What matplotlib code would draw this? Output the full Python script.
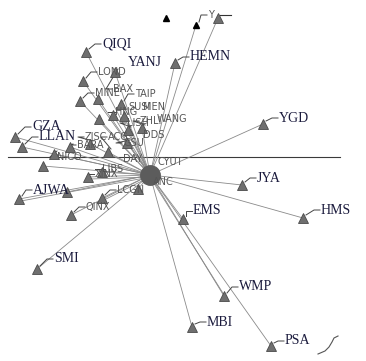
import matplotlib
matplotlib.use("Agg")
import matplotlib.pyplot as plt

# node positions (pixel-like units, y grows downward)
hub = (150, 175)

names   = ['QIQI', 'YANJ', 'HEMN', 'YGD', 'GZA', 'LLAN', 'JYA', 'HMS', 'AJWA', 'EMS',
           'SMI', 'WMP', 'MBI', 'PSA',
           'LOND', 'BAX', 'MINE', '', 'TAIP', 'SUSI', 'MEN', 'HNG', '', '', 'ZHLI', 'WANG',
           'LISH', 'DDS', 'ZISC', 'BARA', 'ACG', 'GSU', 'NICO', '', 'DAY', 'CYUT', 'LIBS',
           'XINX', '', 'LCGN', '', 'QINX', 'ANC', '', 'Y', '']
node_x  = [86, None, 175, 263, 15, 22, 242, 303, 19, 183,
           37, 224, 192, 271,
           83, 115, 80, 98, 121, None, None, 113, 124, 99, 142, None,
           128, None, 90, 70, 108, 127, 54, 43, None, None, 102,
           88, 67, 102, 138, 71, None, 166, 196, 218]
node_y  = [52, None, 63, 124, 137, 147, 185, 218, 199, 219,
           269, 296, 327, 346,
           81, 72, 101, 99, 104, None, None, 115, 116, 119, 128, None,
           130, None, 144, 147, 152, 143, 154, 166, None, None, 172,
           177, 192, 198, 189, 215, None, 18, 25, 18]
label_x = [102, 128, 190, 279, 32, 39, 257, 321, 33, 193,
           54, 239, 207, 285,
           98, 113, 95, None, 135, 128, 143, 115, None, None, 140, 157,
           127, 143, 85, 77, 108, 123, 57, None, 123, 157, 102,
           95, None, 117, None, 86, 153, None, 208, None]
label_y = [44, 63, 57, 118, 127, 137, 178, 210, 190, 211,
           259, 287, 322, 341,
           72, 89, 93, None, 94, 107, 107, 112, None, None, 121, 119,
           123, 135, 137, 145, 137, 143, 157, None, 159, 162, 169,
           174, None, 190, None, 207, 182, None, 15, None]
kinds   = ['big'] * 14 + ['small'] * 29 + ['black', 'black', 'small']

double = ['WMP', 'AJWA', 'XINX', 'LCGN']

axis_y = 157
axis_x = [8, 340]
squiggle_x = [318, 325, 329, 332, 334, 338]
squiggle_y = [354, 351, 347, 342, 338, 336]

fig = plt.figure(figsize=(3.66, 3.61), dpi=100)
ax = fig.add_axes([0, 0, 1, 1])
ax.set_xlim(0, 366)
ax.set_ylim(361, 0)
ax.axis('off')

line_col = '#8a8a8a'
ax.plot(axis_x, [axis_y, axis_y], color='#3a3a3a', lw=0.8, zorder=1)

# spokes from the hub
for i in range(len(names)):
    if node_x[i] is None or (kinds[i] == 'black' and names[i] == ''):
        continue
    ax.plot([hub[0], node_x[i]], [hub[1], node_y[i]], color=line_col, lw=0.6, zorder=1)
    if names[i] in double:
        ax.plot([hub[0], node_x[i] + 2], [hub[1] + 2, node_y[i] + 2], color=line_col, lw=0.6, zorder=1)

# markers
for i in range(len(names)):
    if node_x[i] is None:
        continue
    if kinds[i] == 'black':
        ax.plot(node_x[i], node_y[i], marker='^', ms=5, color='black', zorder=3)
    else:
        ax.plot(node_x[i], node_y[i], marker='^', ms=7, mfc='#6f6f6f', mec='#4a4a4a',
                mew=0.6, zorder=3)

ax.plot(hub[0], hub[1], marker='o', ms=14, color='#5c5c5c', zorder=4)

# labels and leader lines
for i in range(len(names)):
    if label_x[i] is None or names[i] == '':
        continue
    lx, ly = label_x[i], label_y[i]
    if node_x[i] is not None:
        tx, ty = node_x[i], node_y[i]
        ax.plot([tx + 3, lx - 7, lx - 1], [ty - 3, ly, ly], color='#444444', lw=0.7, zorder=2)
    if kinds[i] == 'big':
        ax.text(lx, ly, names[i], fontsize=10, family='Liberation Serif', color='#1b1b3d',
                ha='left', va='center', zorder=5)
    else:
        ax.text(lx, ly, names[i], fontsize=7, family='DejaVu Sans', color='#555555',
                ha='left', va='center', zorder=5)

ax.plot([node_x[-1] + 2, 231], [node_y[-1] - 3, 15], color='#333333', lw=0.8)
ax.plot(squiggle_x, squiggle_y, color='#555555', lw=0.8)

fig.savefig('out.png', dpi=100)
